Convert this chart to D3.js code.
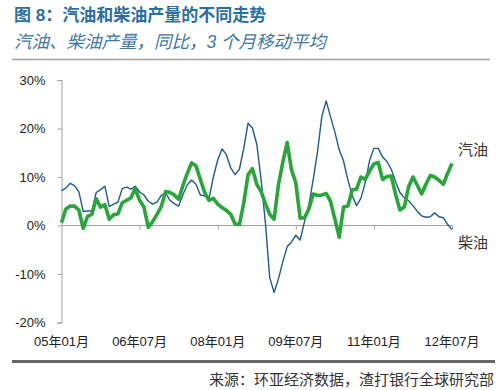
<!DOCTYPE html>
<html><head><meta charset="utf-8">
<script src="https://cdn.jsdelivr.net/npm/d3@7"></script>
<style>
body{margin:0;background:#fff;}
svg{display:block;font-family:"Liberation Sans","Noto Sans CJK SC",sans-serif;}
</style></head>
<body>
<script>
const titleText = "图 8：汽油和柴油产量的不同走势";
const subtitleText = "汽油、柴油产量，同比，3 个月移动平均";
const sourceText = "来源：环亚经济数据，渣打银行全球研究部";
const tickLabels = ["05年01月","06年07月","08年01月","09年07月","11年01月","12年07月"];
const yTicks = [-20,-10,0,10,20,30];
const seriesNames = ["汽油","柴油"];
// monthly categories Jan 2005 .. Jul 2012
const months = [];
for (let y = 5; y <= 12; y++) for (let m = 1; m <= 12; m++) {
  if (y === 12 && m > 7) break;
  months.push(String(y).padStart(2,"0") + "年" + String(m).padStart(2,"0") + "月");
}
const gasoline = [0.6,3.4,4.0,4.0,3.2,-0.6,1.9,2.3,5.5,3.8,4.3,1.3,2.2,2.4,4.7,5.2,5.7,7.6,5.2,3.8,
 -0.4,0.8,2.3,3.9,7.0,6.8,6.3,5.4,8.3,10.8,12.9,12.3,9.5,6.8,5.2,5.6,4.4,3.7,3.1,2.3,
 0.3,0.2,4.6,10.5,11.7,8.5,7.0,4.5,2.3,1.3,8.4,13.0,17.1,11.5,8.8,1.5,1.6,3.4,6.5,6.2,
 6.3,6.6,5.0,1.3,-2.4,3.8,4.0,7.3,7.5,10.0,9.5,11.2,12.7,13.0,9.5,10.1,10.2,6.4,3.2,3.8,
 8.0,10.0,8.3,6.5,8.5,10.3,10.0,9.3,8.5,10.8,12.8];
const diesel = [7.2,7.7,8.7,8.2,7.0,2.9,3.0,3.0,6.8,7.4,8.1,3.9,4.4,4.8,7.6,7.9,7.5,8.1,6.9,6.3,
 5.0,4.4,4.8,6.2,6.7,5.2,4.5,4.0,6.4,8.4,9.4,8.5,6.3,6.1,5.6,10.0,13.5,15.8,14.6,11.9,
 10.5,11.6,15.9,21.1,20.1,16.8,9.5,0.5,-10.8,-13.8,-11.0,-7.5,-4.4,-3.4,-2.0,-3.0,0.8,4.2,9.4,15.2,
 22.5,25.7,22.4,19.3,15.6,13.3,9.4,6.2,4.1,5.6,8.8,13.4,15.9,15.9,14.1,13.2,11.6,9.0,6.8,5.7,
 5.1,4.1,2.9,2.0,1.7,1.8,2.6,1.8,1.6,0.2,-0.8];

const W = 500, H = 390;
const svg = d3.select("body").append("svg").attr("width", W).attr("height", H);

svg.append("text").attr("x", 14).attr("y", 21).attr("font-size", 17).attr("font-weight", "bold")
  .attr("fill", "#2a6fa3").text(titleText);
svg.append("text").attr("x", 14).attr("y", 48).attr("font-size", 17.5).attr("font-style", "italic")
  .attr("fill", "#3c78a8").text(subtitleText);
svg.append("line").attr("x1", 12).attr("x2", 490).attr("y1", 59.5).attr("y2", 59.5)
  .attr("stroke", "#a0a0a0").attr("stroke-width", 1.5);
svg.append("line").attr("x1", 12).attr("x2", 495).attr("y1", 361.5).attr("y2", 361.5)
  .attr("stroke", "#666").attr("stroke-width", 3);
svg.append("text").attr("x", 494).attr("y", 385).attr("text-anchor", "end").attr("font-size", 15)
  .attr("fill", "#333").text(sourceText);

const x = d3.scalePoint().domain(months).range([61.5, 452]);
const y = d3.scaleLinear().domain([-20, 30]).range([322.5, 80]);

const yAxis = svg.append("g").attr("transform", "translate(61.5,0)")
  .call(d3.axisLeft(y).tickValues(yTicks).tickSize(4).tickPadding(12).tickFormat(d => d + "%"));
yAxis.selectAll("path,line").attr("stroke", "#a0a0a0");
yAxis.selectAll("text").attr("font-size", 13).attr("fill", "#222")
  .attr("font-family", "Liberation Sans, sans-serif");

const xAxis = svg.append("g").attr("transform", `translate(0,${y(0)})`)
  .call(d3.axisBottom(x).tickValues(tickLabels.slice(1)).tickSize(4).tickFormat(""));
xAxis.select("path").attr("d", `M61.5,0H${x(months[months.length-1])}`).attr("stroke", "#a0a0a0");
xAxis.selectAll("line").attr("stroke", "#a0a0a0");

svg.append("g").selectAll("text").data(tickLabels).join("text")
  .attr("x", d => x(d)).attr("y", 346).attr("text-anchor", "middle")
  .attr("font-size", 13).attr("fill", "#222").text(d => d);

const line = d3.line().x((d, i) => x(months[i])).y(d => y(d));
svg.append("path").datum(diesel).attr("d", line).attr("fill", "none")
  .attr("stroke", "#1e5b8e").attr("stroke-width", 1.4).attr("stroke-linejoin", "round");
svg.append("path").datum(gasoline).attr("d", line).attr("fill", "none")
  .attr("stroke", "#27a63a").attr("stroke-width", 3.6).attr("stroke-linejoin", "round");

svg.append("text").attr("x", 458).attr("y", 155).attr("font-size", 15).attr("fill", "#333")
  .text(seriesNames[0]);
svg.append("text").attr("x", 458).attr("y", 248).attr("font-size", 15).attr("fill", "#333")
  .text(seriesNames[1]);
</script>
</body></html>
